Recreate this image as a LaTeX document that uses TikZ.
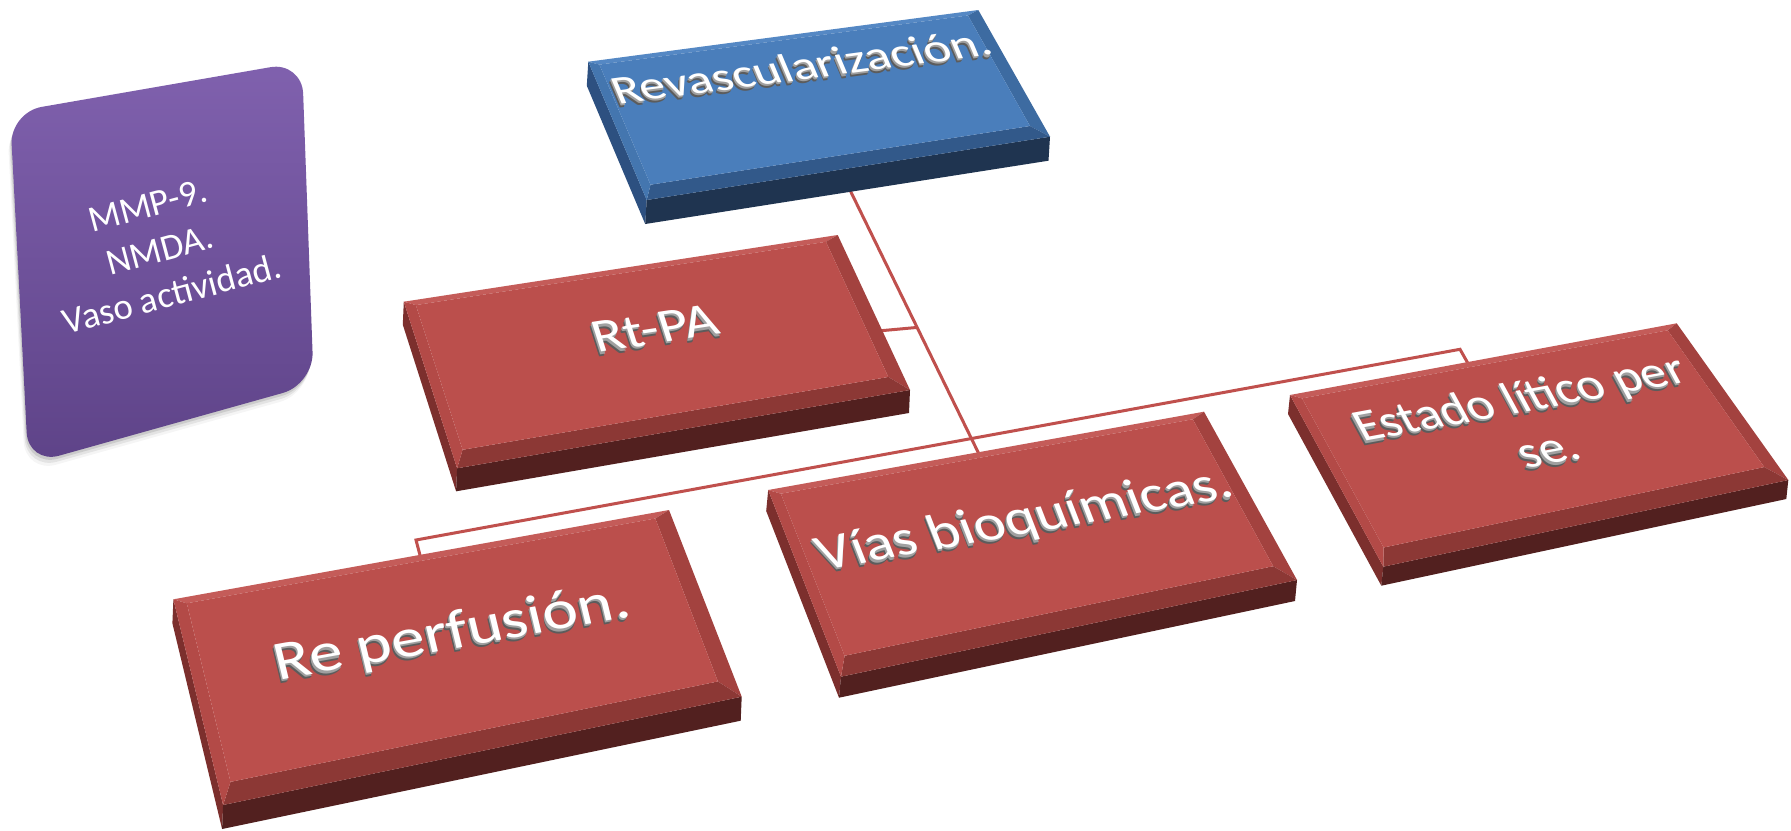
\documentclass[tikz,border=0pt]{standalone}
\usepackage{fontspec}
\newfontfamily\carlito{Carlito}
\usetikzlibrary{calc}

% slab colour sets: face, top/left/right/low bevels, front edge, side edge
\definecolor{redface}{HTML}{BB4F4C}
\definecolor{redtop}{HTML}{C45C59}
\definecolor{redleft}{HTML}{B34A47}
\definecolor{redright}{HTML}{A3423F}
\definecolor{redlow}{HTML}{8C3835}
\definecolor{redfront}{HTML}{52201F}
\definecolor{redside}{HTML}{7C2F2D}
\definecolor{blueface}{HTML}{4A7EBB}
\definecolor{bluetop}{HTML}{5588C4}
\definecolor{blueleft}{HTML}{4476AF}
\definecolor{blueright}{HTML}{3D6BA1}
\definecolor{bluelow}{HTML}{32598A}
\definecolor{bluefront}{HTML}{1F3450}
\definecolor{blueside}{HTML}{2D5080}
\definecolor{linkred}{HTML}{C0504D}
\definecolor{purpletop}{HTML}{8061AE}
\definecolor{purplebot}{HTML}{5E4388}
\definecolor{tshadeA}{HTML}{A0A0A0}
\definecolor{tshadeB}{HTML}{5C5C5C}

\tikzset{
  link/.style={draw=linkred, line width=3pt},
  etext/.style={anchor=base, inner sep=0pt, outer sep=0pt, font=\carlito},
}

% point of the top face at fractions (u along A-B, v along A-D)
\newcommand\facept[4]{%
  \coordinate (#1-u#2) at ($(#1-A)!#3!(#1-B)$);
  \coordinate (#1-l#2) at ($(#1-D)!#3!(#1-C)$);
  \coordinate (#1-in#2) at ($(#1-u#2)!#4!(#1-l#2)$);}

% bevelled slab: #1 name, #2..#5 top face corners A B C D, #6 thickness vector, #7 colour set
\newcommand\slabbox[7]{%
  \coordinate (#1-A) at #2;
  \coordinate (#1-B) at #3;
  \coordinate (#1-C) at #4;
  \coordinate (#1-D) at #5;
  \coordinate (#1-A2) at ($(#1-A)+#6$);
  \coordinate (#1-C2) at ($(#1-C)+#6$);
  \coordinate (#1-D2) at ($(#1-D)+#6$);
  \fill[#7side] (#1-A) -- (#1-A2) -- (#1-D2) -- (#1-D) -- cycle;
  \fill[#7front] (#1-D) -- (#1-D2) -- (#1-C2) -- (#1-C) -- cycle;
  \facept{#1}{1}{0.024}{0.03}
  \facept{#1}{2}{0.968}{0.03}
  \facept{#1}{3}{0.968}{0.9}
  \facept{#1}{4}{0.024}{0.9}
  \fill[#7top] (#1-A) -- (#1-B) -- (#1-in2) -- (#1-in1) -- cycle;
  \fill[#7right] (#1-B) -- (#1-C) -- (#1-in3) -- (#1-in2) -- cycle;
  \fill[#7low] (#1-D) -- (#1-C) -- (#1-in3) -- (#1-in4) -- cycle;
  \fill[#7left] (#1-A) -- (#1-D) -- (#1-in4) -- (#1-in1) -- cycle;
  \fill[#7face] (#1-in1) -- (#1-in2) -- (#1-in3) -- (#1-in4) -- cycle;}

% embossed label lying in the plane of a slab:
% #1 name, #2 baseline point, #3 angle, #4 slant, #5 squash, #6 text
\newcommand\slabtext[6]{%
  \node[etext,text=tshadeB,rotate=#3,xslant=#4,yscale=#5] (#1-s4) at ($#2+(-1.6,4.2)$) {#6};
  \node[etext,text=tshadeB,rotate=#3,xslant=#4,yscale=#5] (#1-s3) at ($#2+(-1.2,3.2)$) {#6};
  \node[etext,text=tshadeA,rotate=#3,xslant=#4,yscale=#5] (#1-s2) at ($#2+(-0.8,2.2)$) {#6};
  \node[etext,text=tshadeA,rotate=#3,xslant=#4,yscale=#5] (#1-s1) at ($#2+(-0.4,1.1)$) {#6};
  \node[etext,text=white,rotate=#3,xslant=#4,yscale=#5] (#1) at #2 {#6};}

\begin{document}
\begin{tikzpicture}[x=1pt,y=-1pt]
\fill[white] (0,0) rectangle (1791,830);
\useasboundingbox (0,0) rectangle (1791,830);

% side note card with its soft shadow
\foreach \sx/\sy/\op in {-1/3/0.10,-2/6/0.07,-3/9/0.04}{
  \fill[black,opacity=\op,rounded corners=32,shift={(\sx,\sy)}]
    (19.2,288) -- (10,112.4) -- (302,61.7) -- (313.7,384.3) -- (28.3,464.3) -- cycle;}
\shade[top color=purpletop,bottom color=purplebot,rounded corners=32]
  (19.2,288) -- (10,112.4) -- (302,61.7) -- (313.7,384.3) -- (28.3,464.3) -- cycle;
\node[font=\carlito\fontsize{37}{46}\selectfont,text=white,align=center,inner sep=0pt,rotate=15]
  (sidenote) at (160,250) {MMP-9.\\NMDA.\\Vaso actividad.};

% connectors
\coordinate (trunk-top) at (848,186);
\coordinate (rp-corner) at (416,540);
\coordinate (es-corner) at (1460,349.3);
\coordinate (trunk-join) at ($(rp-corner)!0.532!(es-corner)$);
\coordinate (vb-in) at ($(trunk-top)!1.07!(trunk-join)$);
\coordinate (rp-in) at (421,559);
\coordinate (es-in) at (1470,367);
\coordinate (rt-out) at (878,331);
\coordinate (trunk-rt) at ($(trunk-top)!0.56!(trunk-join)$);
\draw[link] (trunk-top) -- (vb-in);
\draw[link,line join=miter] (rp-in) -- (rp-corner) -- (es-corner) -- (es-in);
\draw[link] (rt-out) -- (trunk-rt);

% slabs
\slabbox{rev}{(588.3,61.7)}{(978.3,10)}{(1050,136.7)}{(646.7,200)}{(-1.5,24)}{blue}
\slabbox{rt}{(403.8,301.7)}{(837.7,235)}{(910,390)}{(457.1,468.3)}{(-1,23)}{red}
\slabbox{rp}{(173.4,599.3)}{(669,510)}{(741.7,696.7)}{(223.1,805)}{(-1,24)}{red}
\slabbox{vb}{(768.2,490)}{(1204,411.7)}{(1297,580)}{(841,676.7)}{(-2,21)}{red}
\slabbox{el}{(1290,395)}{(1676.7,323.3)}{(1788.3,480)}{(1383.3,566.7)}{(-2,19)}{red}

% labels
\slabtext{revtext}{(806.7,79.2)}{7.55}{-0.275}{0.79}{\fontsize{51.6}{63}\selectfont Revascularización.}
\slabtext{rttext}{(659.5,343.3)}{8.74}{-0.159}{0.82}{\fontsize{58}{70}\selectfont Rt-PA}
\slabtext{rptext}{(455.6,648.3)}{10.21}{-0.059}{0.829}{\fontsize{67}{82}\selectfont Re perfusión.}
\slabtext{vbtext}{(1030,533.3)}{10.19}{-0.196}{0.854}{\fontsize{59.7}{73}\selectfont Vías bioquímicas.}
\slabtext{eltext}{(1527,411.5)}{10.5}{-0.325}{0.904}{\fontsize{51.2}{62}\selectfont\begin{tabular}[t]{@{}c@{}}Estado lítico per\\se.\end{tabular}}
\end{tikzpicture}
\end{document}
